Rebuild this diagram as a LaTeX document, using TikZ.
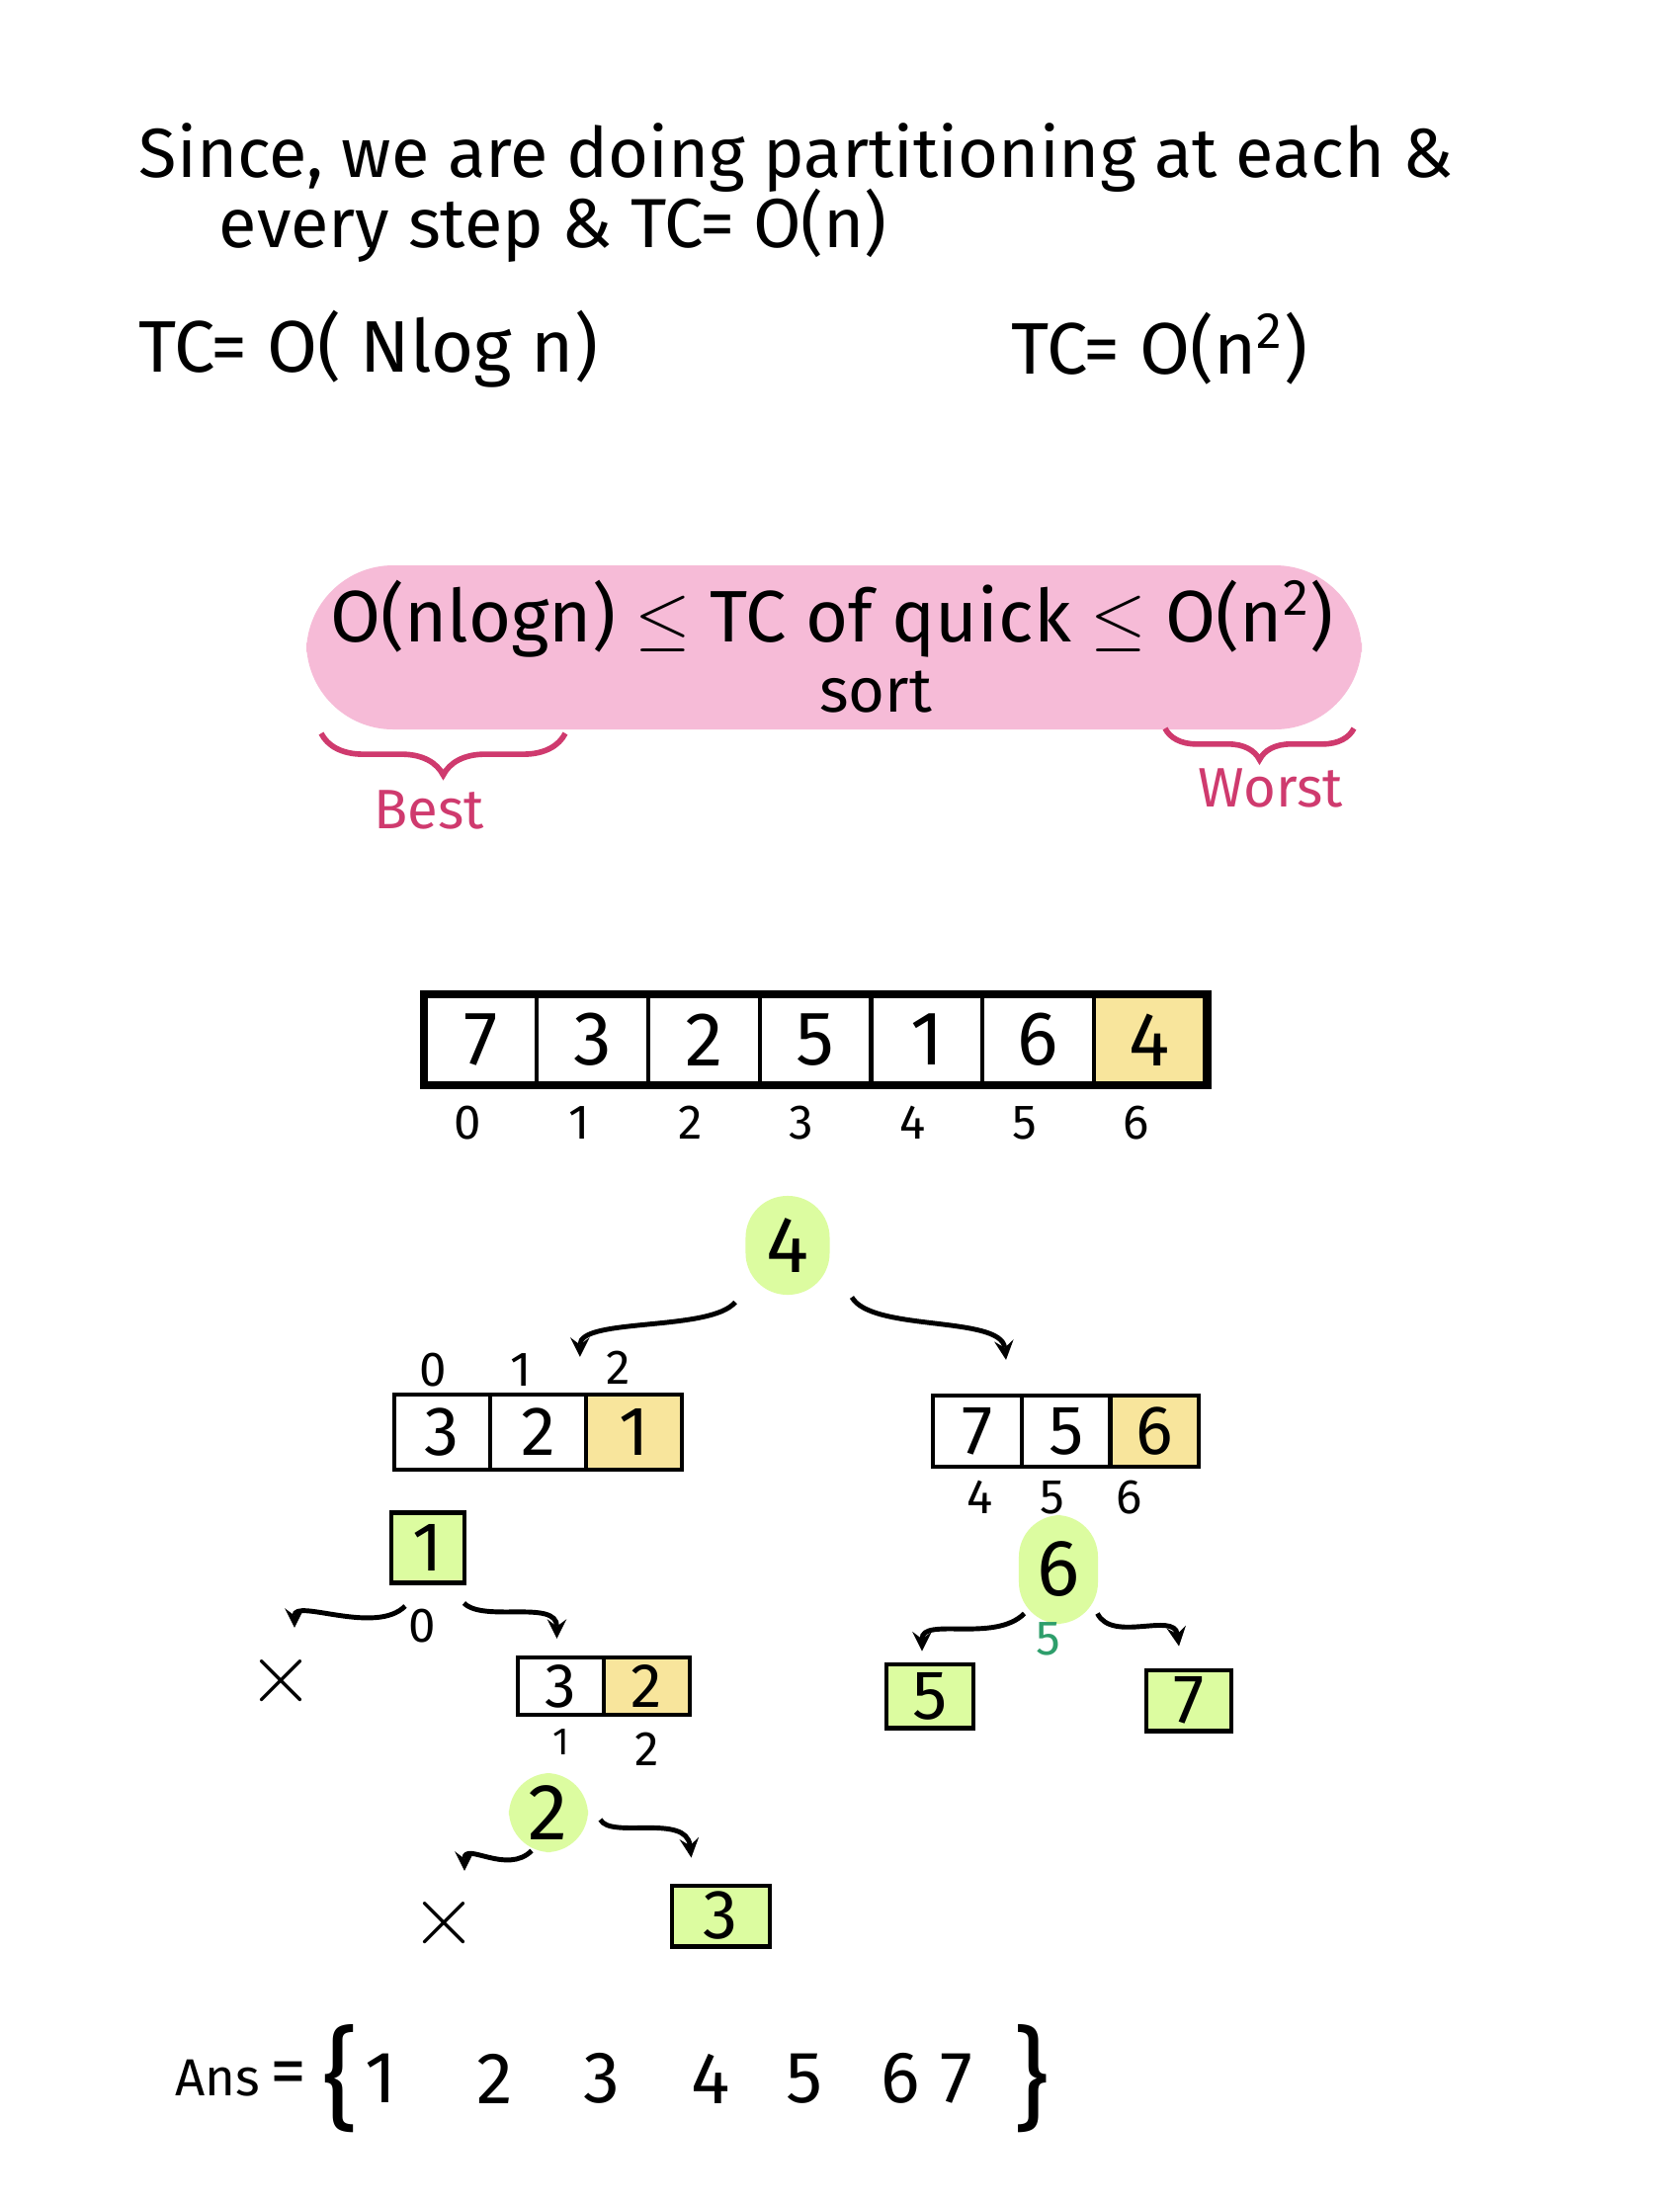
\documentclass[tikz,border=0pt]{standalone}
\usepackage{fontspec}
\setmainfont{Fira Sans}
\usetikzlibrary{positioning,decorations.pathreplacing}

\definecolor{pinkhl}{HTML}{F6BBD7}
\definecolor{greenhl}{HTML}{DCFCA0}
\definecolor{yellowhl}{HTML}{F8E59C}
\definecolor{crimson}{HTML}{CF3A6E}
\definecolor{tealgreen}{HTML}{2E9E6B}

\begin{document}
\begin{tikzpicture}[x=0.01cm,y=-0.01cm,line width=1.4pt,>=stealth]
	\tikzstyle{every node}=[inner sep=1pt, font=\fontsize{20}{22}\selectfont]
	\tikzstyle{big}=[font=\fontsize{21}{24}\selectfont]
	\tikzstyle{cell}=[draw, line width=1.2pt, minimum width=1.127cm, minimum height=0.88cm, inner sep=0pt, font=\fontsize{22}{24}\selectfont]
	\tikzstyle{subcell}=[draw, line width=1.2pt, minimum height=0.76cm, inner sep=0pt, font=\fontsize{20}{24}\selectfont]
	\tikzstyle{idx}=[font=\fontsize{14}{16}\selectfont]
	\tikzstyle{pivot}=[fill=greenhl, rounded corners=12pt, minimum width=0.85cm, minimum height=1.0cm, font=\fontsize{23}{26}\selectfont]
	\tikzstyle{leaf}=[draw, fill=greenhl, minimum width=0.8cm, minimum height=0.62cm, inner sep=0pt, font=\fontsize{20}{24}\selectfont]
	\tikzstyle{cross}=[font=\fontsize{26}{28}\selectfont]
	\tikzstyle{hook}=[->, line width=1.4pt]

	\useasboundingbox[fill=white] (0,0) rectangle (1700,2232);

	\node[anchor=west] (line1) at (135,160) {Since, we are doing partitioning at each \&};
	\node[anchor=west] (line2) at (216,228) {every step \& TC= O(n)};
	\node[big, anchor=west] (best) at (135,353) {TC= O( Nlog n)};
	\node[big, anchor=west] (worst) at (1018,353) {TC= O(n\textsuperscript{2})};

	\fill[pinkhl, rounded corners=25pt] (310,572) rectangle (1378,738);
	\node[big] (ineq) at (842,626) {O(nlogn) $\leq$ TC of quick $\leq$ O(n\textsuperscript{2})};
	\node[font=\fontsize{18}{20}\selectfont] (sortlbl) at (886,700) {sort};

	\draw[crimson, line width=1.6pt, decoration={brace,mirror,amplitude=12pt}, decorate] (325,742) -- (572,742);
	\node[crimson, font=\fontsize{16}{18}\selectfont] (bestlbl) at (434,819) {Best};
	\draw[crimson, line width=1.6pt, decoration={brace,mirror,amplitude=9pt}, decorate] (1179,737) -- (1370,737);
	\node[crimson, font=\fontsize{16}{18}\selectfont] (worstlbl) at (1286,797) {Worst};

	\foreach \v/\c [count=\i from 0] in {7/white,3/white,2/white,5/white,1/white,6/white,4/yellowhl}
		\node[cell, fill=\c] (a\i) at (487+112.7*\i,1052) {\v};
	\draw[line width=2.2pt] (a0.north west) rectangle (a6.south east);
	\foreach \i in {0,...,6}
		\node[idx] (ai\i) at ([shift={(-14,84)}]a\i.center) {\i};

	\node[pivot] (p4) at (797,1260) {4};

	\foreach \v/\c [count=\i from 0] in {3/white,2/white,1/yellowhl}
		\node[subcell, fill=\c, minimum width=0.97cm] (l\i) at (447.5+97*\i,1449) {\v};
	\node[idx] (li0) at (438,1386) {0};
	\node[idx] (li1) at (527,1386) {1};
	\node[idx] (li2) at (626,1384) {2};

	\foreach \v/\c [count=\i from 0] in {7/white,5/white,6/yellowhl}
		\node[subcell, fill=\c, minimum width=0.897cm, minimum height=0.72cm] (r\i) at (989+89.7*\i,1448) {\v};
	\node[idx] (ri0) at (992,1515) {4};
	\node[idx] (ri1) at (1065,1515) {5};
	\node[idx] (ri2) at (1143,1515) {6};

	\draw[hook] ([shift={(-8,5)}]p4.south west) .. controls +(-25,30) and +(0,-40) .. ([shift={(-4,-36)}]l2.north west);
	\draw[hook] ([shift={(20,0)}]p4.south east) .. controls +(20,35) and +(-5,-45) .. ([shift={(29,-34)}]r0.north);

	\node[leaf, minimum width=0.74cm, minimum height=0.71cm] (p1) at (433,1566) {1};
	\node[cross] (x1) at (285,1701) {$\times$};
	\node[idx] (z1) at (427,1645) {0};
	\foreach \v/\c [count=\i from 0] in {3/white,2/yellowhl}
		\node[subcell, fill=\c, minimum width=0.87cm, minimum height=0.58cm, font=\fontsize{18}{20}\selectfont] (m\i) at (567.5+87*\i,1706) {\v};
	\node[idx, font=\fontsize{11}{13}\selectfont] (mi0) at (568,1763) {1};
	\node[idx] (mi1) at (655,1770) {2};

	\draw[hook] ([shift={(-23,21)}]p1.south) .. controls +(-30,30) and +(0,-30) .. ([shift={(13,-19)}]x1.north);
	\draw[hook] ([shift={(-3,18)}]p1.south east) .. controls +(20,20) and +(0,-40) .. ([shift={(-4,-17)}]m0.north);

	\node[pivot, minimum width=0.8cm, minimum height=0.8cm] (p2) at (555,1834) {2};
	\node[cross] (x2) at (450,1946) {$\times$};
	\node[leaf, minimum width=0.99cm, minimum height=0.61cm] (b3) at (729.5,1938.5) {3};

	\draw[hook] ([shift={(-17,-4)}]p2.south) .. controls +(-25,25) and +(0,-30) .. ([shift={(20,-18)}]x2.north);
	\draw[hook] ([shift={(10,7)}]p2.east) .. controls +(10,20) and +(-5,-45) .. ([shift={(-30,-26)}]b3.north);

	\node[pivot, minimum width=0.8cm, minimum height=1.1cm] (p6) at (1071,1588) {6};
	\node[tealgreen, idx] (s5) at (1061,1658) {5};
	\node[leaf, minimum width=0.88cm, minimum height=0.64cm] (b5) at (941,1716) {5};
	\node[leaf, minimum width=0.86cm, minimum height=0.61cm] (b7) at (1203,1720.5) {7};

	\draw[hook] ([shift={(8,-13)}]p6.south west) .. controls +(-30,30) and +(0,-35) .. ([shift={(-8,-11)}]b5.north);
	\draw[hook] ([shift={(-3,-13)}]p6.south east) .. controls +(15,30) and +(-5,-35) .. ([shift={(-10,-22)}]b7.north);

	\node[idx, font=\fontsize{15}{18}\selectfont] (ans) at (220,2103) {Ans};
	\node[big] (eq) at (292,2103) {=};
	\node[font=\fontsize{32}{36}\selectfont] (lbrace) at (345,2103) {\{};
	\foreach \v/\x in {1/385,2/501,3/609,4/719,5/814,6/911,7/968}
		\node[big] (ans\v) at (\x,2103) {\v};
	\node[font=\fontsize{32}{36}\selectfont] (rbrace) at (1044,2103) {\}};
\end{tikzpicture}
\end{document}
